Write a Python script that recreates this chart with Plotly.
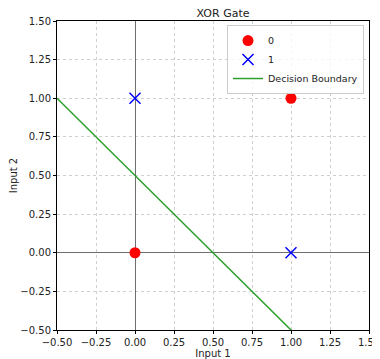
import plotly.graph_objects as go

# Data
class0_x = [0, 1]
class0_y = [0, 1]
class1_x = [0, 1]
class1_y = [1, 0]
boundary_x = [-0.5, 1.5]
boundary_y = [1.0, -1.0]
tick_vals = [-0.5, -0.25, 0.0, 0.25, 0.5, 0.75, 1.0, 1.25, 1.5]
tick_text = ["\u22120.50", "\u22120.25", "0.00", "0.25", "0.50", "0.75", "1.00", "1.25", "1.50"]

fig = go.Figure()
fig.add_trace(go.Scatter(x=class0_x, y=class0_y, mode="markers", name="0",
                         marker=dict(color="red", size=11, symbol="circle")))
fig.add_trace(go.Scatter(x=class1_x, y=class1_y, mode="markers", name="1",
                         marker=dict(color="blue", size=11, symbol="x-thin",
                                     line=dict(color="blue", width=1.5))))
fig.add_trace(go.Scatter(x=boundary_x, y=boundary_y, mode="lines", name="Decision Boundary",
                         line=dict(color="#2ca02c", width=1.5)))

axis_common = dict(
    range=[-0.5, 1.5], tickvals=tick_vals, ticktext=tick_text,
    showgrid=True, gridcolor="#cfcfcf", griddash="dot", gridwidth=0.8,
    zeroline=True, zerolinecolor="#6e6e6e", zerolinewidth=1,
    showline=True, linecolor="black", linewidth=1, mirror=True,
    ticks="outside", ticklen=3, tickcolor="black",
    tickfont=dict(size=10, color="#222", family="DejaVu Sans"),
    automargin=False, ticklabeloverflow="allow",
)

fig.update_layout(
    width=372, height=351,
    margin=dict(l=49, r=11, t=13, b=29),
    plot_bgcolor="white", paper_bgcolor="white",
    title=dict(text="XOR Gate", x=0.578, xanchor="center", y=0.984, yanchor="middle",
               font=dict(size=11, color="#222", family="DejaVu Sans")),
    xaxis=dict(axis_common, title=dict(text="Input 1", standoff=2,
                                      font=dict(size=10, color="#222", family="DejaVu Sans"))),
    yaxis=dict(axis_common, title=dict(text="Input 2", standoff=2,
                                      font=dict(size=10, color="#222", family="DejaVu Sans"))),
    legend=dict(x=0.984, y=0.987, xanchor="right", yanchor="top",
                bgcolor="rgba(255,255,255,0.8)", bordercolor="#cccccc", borderwidth=1,
                font=dict(size=9.5, color="#222", family="DejaVu Sans"),
                tracegroupgap=0, itemwidth=30),
    showlegend=True,
)

fig.write_html("out.html")
